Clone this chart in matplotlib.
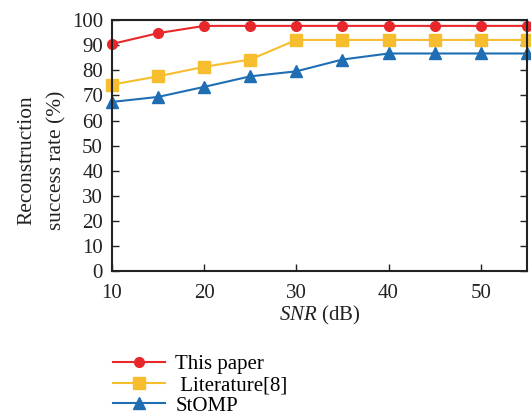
import matplotlib
matplotlib.use("Agg")
import matplotlib.pyplot as plt

snr = [10, 15, 20, 25, 30, 35, 40, 45, 50, 55]
this_paper = [90.5, 94.8, 97.7, 97.7, 97.7, 97.7, 97.7, 97.7, 97.7, 97.7]
literature8 = [74.3, 77.6, 81.4, 84.3, 92.1, 92.1, 92.1, 92.1, 92.1, 92.1]
stomp = [67.4, 69.4, 73.4, 77.6, 79.6, 84.3, 86.7, 86.7, 86.7, 86.7]
labels = ["This paper", " Literature[8]", "StOMP"]

plt.rcParams['font.family'] = ['Liberation Serif', 'DejaVu Serif']
plt.rcParams['mathtext.fontset'] = 'custom'
plt.rcParams['mathtext.it'] = 'Liberation Serif:italic'
plt.rcParams['mathtext.rm'] = 'Liberation Serif'

fig = plt.figure(figsize=(5.31, 4.19), dpi=100)
ax = fig.add_axes([0.211, 0.353, 0.781, 0.599])

l1, = ax.plot(snr, this_paper, color='#E8272B', marker='o', markersize=7, lw=1.5, label=labels[0])
l2, = ax.plot(snr, literature8, color='#F6BD2F', marker='s', markersize=9, lw=1.5, label=labels[1])
l3, = ax.plot(snr, stomp, color='#1F6EB4', marker='^', markersize=9, lw=1.5, label=labels[2])

ax.set_xlim(10, 55)
ax.set_ylim(0, 100)
ax.set_xticks([10, 20, 30, 40, 50])
ax.set_yticks(range(0, 101, 10))
ax.tick_params(direction='in', right=True, top=False, labelsize=15, length=5, width=1, colors='#222222')
ax.tick_params(axis='y', pad=6.5)
ax.tick_params(axis='x', pad=9)
for s in ax.spines.values():
    s.set_linewidth(1.5)
    s.set_color('#222222')
for l in ax.get_lines():
    l.set_clip_on(False)

ax.set_xlabel('$SNR$ (dB)', fontsize=15, color='#222222', labelpad=1)
ax.set_ylabel('Reconstruction\nsuccess rate (%)', fontsize=15.4, color='#222222', linespacing=1.7)
ax.yaxis.set_label_coords(-0.111, 0.442)

fig.legend(handles=[l1, l2, l3], labels=labels, loc='upper left', bbox_to_anchor=(0.213, 0.153),
           frameon=False, fontsize=15, handlelength=2.5, labelspacing=0.05, handletextpad=0.48,
           borderpad=0.0, borderaxespad=0.0)

fig.savefig('out.png', dpi=100)
